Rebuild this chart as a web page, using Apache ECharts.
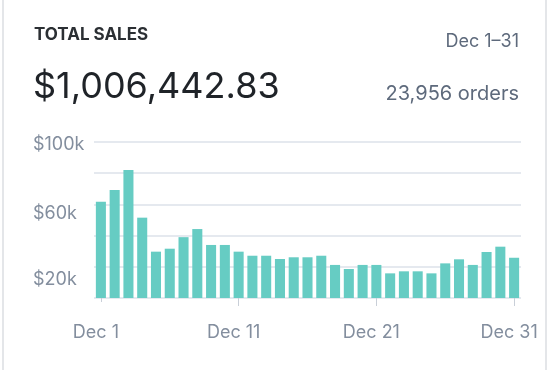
<!DOCTYPE html>
<html>
<head>
<meta charset="utf-8">
<script src="https://cdn.jsdelivr.net/npm/echarts@6/dist/echarts.min.js"></script>
<style>
html,body{margin:0;padding:0;background:#fff;}
#chart{width:550px;height:370px;}
</style>
</head>
<body>
<div id="chart"></div>
<script>
// ---- data ----
var days = [];
for (var d = 1; d <= 31; d++) { days.push('Dec ' + d); }
var sales = [61700, 69200, 82000, 51500, 29700, 31600, 39000, 44200, 34000, 34000,
             29700, 27100, 27100, 25000, 26100, 26100, 27100, 21200, 18600, 21200,
             21200, 15800, 17100, 17100, 15800, 22200, 24800, 21200, 29500, 32900, 25800];
var yTickLabels = { 100000: '$100k', 60000: '$60k', 20000: '$20k' };
var titleText = 'TOTAL SALES';
var totalText = '$1,006,442.83';
var rangeText = 'Dec 1\u201331';
var ordersText = '23,956 orders';

var chart = echarts.init(document.getElementById('chart'), null, { renderer: 'canvas' });
var FONT = 'Inter, "Noto Sans", sans-serif';
var axisGray = '#838e9e';

chart.setOption({
  animation: false,
  backgroundColor: '#ffffff',
  textStyle: { fontFamily: FONT },
  grid: { left: 94, right: 29, top: 142, bottom: 72, containLabel: false },
  xAxis: [{
    type: 'category',
    data: days,
    axisLine: { show: false },
    axisTick: { show: true, alignWithLabel: true, length: 4, lineStyle: { color: '#c9cfd8', width: 1 } },
    axisLabel: {
      interval: 9, margin: 26, color: axisGray, fontSize: 18, fontFamily: FONT,
      padding: [0, 10, 0, 0]
    }
  }, {
    type: 'category',
    data: days,
    position: 'bottom',
    axisLine: { show: false },
    axisTick: { show: true, alignWithLabel: true, interval: function (i) { return i === 10 || i === 20 || i === 30; }, length: 8, lineStyle: { color: '#c9cfd8', width: 1 } },
    axisLabel: { show: false }
  }],
  yAxis: {
    type: 'value',
    min: 0, max: 100000, interval: 20000,
    axisLine: { show: false },
    axisTick: { show: false },
    splitLine: { lineStyle: { color: '#e5e9ef', width: 2 } },
    axisLabel: {
      align: 'left', margin: 61, color: axisGray, fontSize: 18, fontFamily: FONT,
      formatter: function (v) {
        if (v === 100000) return '{a|' + yTickLabels[v] + '}';
        if (v === 60000) return '{b|' + yTickLabels[v] + '}';
        if (v === 20000) return '{c|' + yTickLabels[v] + '}';
        return '';
      },
      rich: {
        a: { color: axisGray, fontSize: 18, fontFamily: FONT, padding: [6, 0, 0, 0] },
        b: { color: axisGray, fontSize: 18, fontFamily: FONT, padding: [19, 0, 0, 0] },
        c: { color: axisGray, fontSize: 18, fontFamily: FONT, padding: [25, 0, 0, 0] }
      }
    }
  },
  series: [{
    type: 'bar',
    data: sales,
    barCategoryGap: '27%',
    itemStyle: { color: '#66ccc3' }
  }],
  graphic: [
    { type: 'rect', shape: { x: 2, y: 0, width: 2, height: 370 }, style: { fill: '#e4e6e9' }, silent: true },
    { type: 'rect', shape: { x: 545, y: 0, width: 2, height: 370 }, style: { fill: '#e4e6e9' }, silent: true },
    { type: 'text', style: { x: 34, y: 35, text: titleText, font: 'bold 17px ' + FONT, fill: '#2b2f33', textVerticalAlign: 'middle' } },
    { type: 'text', style: { x: 33, y: 87, text: totalText, font: '36px ' + FONT, fill: '#1f2328', textVerticalAlign: 'middle' } },
    { type: 'text', style: { x: 519, y: 42, text: rangeText, font: '18px ' + FONT, fill: '#5e6a7c', textAlign: 'right', textVerticalAlign: 'middle' } },
    { type: 'text', style: { x: 519, y: 94, text: ordersText, font: '20px ' + FONT, fill: '#5e6a7c', textAlign: 'right', textVerticalAlign: 'middle' } }
  ]
});
</script>
</body>
</html>
